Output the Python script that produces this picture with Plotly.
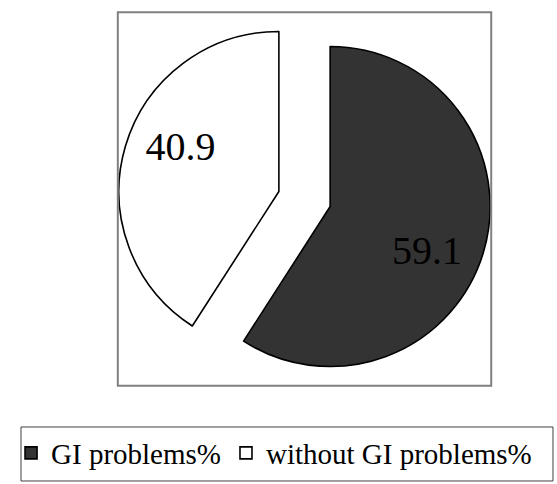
import plotly.graph_objects as go

# Share of patients with / without gastrointestinal problems (%)
categories = ["GI problems%", "without GI problems%"]
values = [59.1, 40.9]
slice_colors = ["#333333", "#ffffff"]

# Label layout inside each slice: the dark slice's number sits lower-right,
# the white slice's number upper-left (padding lines / spaces nudge them).
nb = "\u00a0"
label_templates = [
    "<span style='font-size:29px'>" + nb + "</span><br>" + nb * 4 + "%{value}",
    "%{value}" + nb * 4 + "<br><span style='font-size:1px'>" + nb + "</span>",
]

fig = go.Figure(
    go.Pie(
        labels=categories,
        values=values,
        sort=False,
        direction="clockwise",
        rotation=0,
        pull=[0.167, 0.167],
        marker=dict(colors=slice_colors, line=dict(color="#000000", width=1.6)),
        texttemplate=label_templates,
        textposition="inside",
        insidetextorientation="horizontal",
        textfont=dict(family="Liberation Serif", size=40, color="#000000"),
        domain=dict(x=[0.2115, 0.8819], y=[0.2031, 0.9746]),
        hoverinfo="label+value",
    )
)

fig.update_layout(
    width=557,
    height=484,
    margin=dict(l=0, r=0, t=0, b=0),
    paper_bgcolor="#ffffff",
    plot_bgcolor="#ffffff",
    font=dict(family="Liberation Serif", color="#000000"),
    showlegend=True,
    legend=dict(
        orientation="h",
        x=0.492,
        xanchor="center",
        y=0.064,
        yanchor="middle",
        font=dict(family="Liberation Serif", size=29, color="#000000"),
        bgcolor="rgba(0,0,0,0)",
        borderwidth=0,
        itemwidth=30,
    ),
    shapes=[
        # frame around the pie area
        dict(type="rect", xref="paper", yref="paper",
             x0=0.2115, x1=0.8819, y0=0.2031, y1=0.9746,
             line=dict(color="#808080", width=2), fillcolor="rgba(0,0,0,0)"),
        # frame around the legend
        dict(type="rect", xref="paper", yref="paper",
             x0=0.0377, x1=0.9928, y0=0.0062, y1=0.1178,
             line=dict(color="#404040", width=1), fillcolor="rgba(0,0,0,0)"),
    ],
)

fig.write_html("out.html")
